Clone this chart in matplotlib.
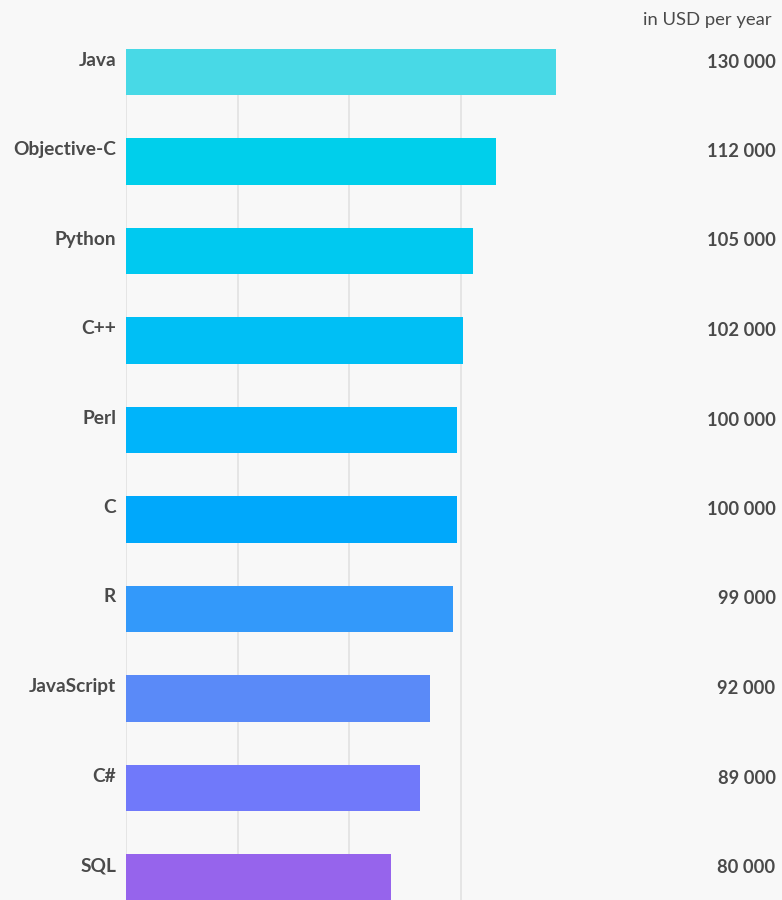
import matplotlib.pyplot as plt

languages = ['Java', 'Objective-C', 'Python', 'C++', 'Perl', 'C', 'R',
             'JavaScript', 'C#', 'SQL']
salaries = [130000, 112000, 105000, 102000, 100000, 100000, 99000,
            92000, 89000, 80000]
bar_colors = ['#48D9E6', '#00CFEB', '#00C9F0', '#00BFF5', '#00B4FA',
              '#00A8FB', '#3399FA', '#5A8AF8', '#7079FA', '#9664EC']
unit_label = 'in USD per year'

bg = '#F8F8F8'
text_color = '#4A4A4A'

fig = plt.figure(figsize=(7.82, 9), dpi=100, facecolor=bg)
# axes area in figure fraction: x from 126px to 572.5px, full height
ax = fig.add_axes([126 / 782, 0, 446.5 / 782, 1])
ax.set_facecolor(bg)

n = len(languages)
ypos = list(range(n))
bar_h = 0.525

# vertical grid lines behind the bars
for gx in [0, 33750, 67500, 101250]:
    ax.vlines(gx, -bar_h / 2, n, color='#E2E2E2', linewidth=1.2, zorder=1)

ax.barh(ypos, salaries, height=bar_h, color=bar_colors, zorder=2)

ax.set_xlim(0, 135000)
ax.set_ylim((900 - 72) / 89.5, -72 / 89.5)
ax.axis('off')

for i, (lang, val) in enumerate(zip(languages, salaries)):
    ax.annotate(lang, xy=(0, i), xytext=(-10, 12), textcoords='offset pixels',
                ha='right', va='center', fontsize=13.8, fontweight='bold',
                family='Lato', color=text_color)
    ax.annotate(f'{val:,}'.replace(',', ' '), xy=(1, i),
                xycoords=('axes fraction', 'data'),
                xytext=(203, 10), textcoords='offset pixels',
                ha='right', va='center', fontsize=13.2, fontweight='bold',
                family='Lato', color=text_color)

fig.text(772 / 782, 1 - 20 / 900, unit_label, ha='right', va='center',
         fontsize=13.3, family='Lato', color=text_color)

fig.savefig('out.png', dpi=100, facecolor=bg)
